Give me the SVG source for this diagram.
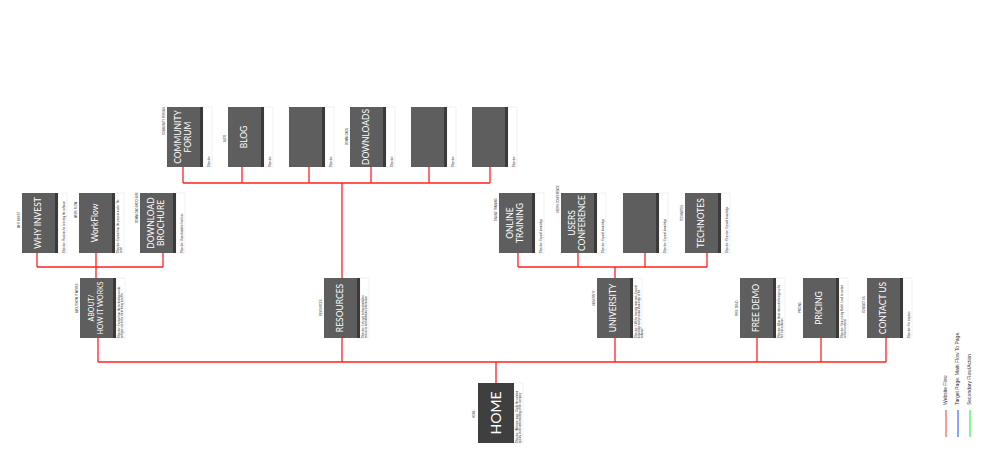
<svg xmlns="http://www.w3.org/2000/svg" width="1000" height="452" viewBox="0 0 1000 452">
<style>
.b{fill:#5e5e5e}.h{fill:#3f3f3f}.s{fill:#3a3a3a}.p{fill:#fff;stroke:#e6e6e6;stroke-width:0.6}
.t{font-family:"Lato","Liberation Sans",sans-serif;fill:#fff;font-size:8.5px;text-anchor:middle}
.sm{font-family:"Liberation Sans",sans-serif;fill:#333;font-size:2.6px}
.c{stroke:#f22;stroke-width:1.3;fill:none}
.lg{font-family:"Liberation Sans",sans-serif;fill:#333;font-size:5px}
</style>
<rect width="1000" height="452" fill="#fff"/>
<g id="connectors" class="c">
<path d="M183 167V183M242 167V183M309 167V183M371 167V183M429 167V183M490 167V183M183 183H490M342 183V278"/>
<path d="M37 252V267M96 252V267M163 252V267M37 267H163M96 267V278"/>
<path d="M518 252V267M578 252V267M645 252V267M707 252V267M518 267H707M615 267V278"/>
<path d="M98 337V362M342 337V362M615 337V362M757 337V362M821 337V362M886 337V362M98 362H886M496 362V383"/>
</g>
<g id="n-community" transform="translate(167,107)"><rect class="p" x="36" width="9" height="60"/><rect class="b" width="36" height="60"/><rect class="s" x="33" width="3" height="60"/><text class="t" transform="translate(16,30) rotate(-90)"><tspan x="0" y="-2">COMMUNITY</tspan><tspan x="0" y="8">FORUM</tspan></text><text class="sm" transform="translate(-2,60) rotate(-90)" x="32">COMMUNITY FORUMS</text><text class="sm" transform="translate(43,60) rotate(-90)">Objective</text></g>
<g id="n-blog" transform="translate(228,107)"><rect class="p" x="36" width="9" height="60"/><rect class="b" width="36" height="60"/><rect class="s" x="33" width="3" height="60"/><text class="t" transform="translate(19,30) rotate(-90)">BLOG</text><text class="sm" transform="translate(-2,60) rotate(-90)" x="25">BLOG</text><text class="sm" transform="translate(43,60) rotate(-90)">Objective</text></g>
<g id="n-empty1" transform="translate(289,107)"><rect class="p" x="36" width="9" height="60"/><rect class="b" width="36" height="60"/><rect class="s" x="33" width="3" height="60"/><text class="sm" transform="translate(43,60) rotate(-90)">Objective</text></g>
<g id="n-downloads" transform="translate(350,107)"><rect class="p" x="36" width="9" height="60"/><rect class="b" width="36" height="60"/><rect class="s" x="33" width="3" height="60"/><text class="t" transform="translate(19,30) rotate(-90)">DOWNLOADS</text><text class="sm" transform="translate(-2,60) rotate(-90)" x="22">DOWNLOADS</text><text class="sm" transform="translate(43,60) rotate(-90)">Objective</text></g>
<g id="n-empty2" transform="translate(411,107)"><rect class="p" x="36" width="9" height="60"/><rect class="b" width="36" height="60"/><rect class="s" x="33" width="3" height="60"/><text class="sm" transform="translate(43,60) rotate(-90)">Objective</text></g>
<g id="n-empty3" transform="translate(472,107)"><rect class="p" x="36" width="9" height="60"/><rect class="b" width="36" height="60"/><rect class="s" x="33" width="3" height="60"/><text class="sm" transform="translate(43,60) rotate(-90)">Objective</text></g>
<g id="n-whyinvest" transform="translate(22,193)"><rect class="p" x="36" width="9" height="60"/><rect class="b" width="36" height="60"/><rect class="s" x="33" width="3" height="60"/><text class="t" transform="translate(19,30) rotate(-90)">WHY INVEST</text><text class="sm" transform="translate(-2,60) rotate(-90)" x="25">WHY INVEST</text><text class="sm" transform="translate(43,60) rotate(-90)">Objective: Reasons for selecting the software</text></g>
<g id="n-workflow" transform="translate(79,193)"><rect class="p" x="36" width="9" height="60"/><rect class="b" width="36" height="60"/><rect class="s" x="33" width="3" height="60"/><text class="t" transform="translate(19,30) rotate(-90)">WorkFlow</text><text class="sm" transform="translate(-2,60) rotate(-90)" x="35">WORK FLOW</text><text class="sm" transform="translate(40,60) rotate(-90)"><tspan x="0">Objective: Explain how the process works. The</tspan><tspan x="0" dy="3">need</tspan></text></g>
<g id="n-brochure" transform="translate(140,193)"><rect class="p" x="36" width="9" height="60"/><rect class="b" width="36" height="60"/><rect class="s" x="33" width="3" height="60"/><text class="t" transform="translate(16,30) rotate(-90)"><tspan x="0" y="-2">DOWNLOAD</tspan><tspan x="0" y="8">BROCHURE</tspan></text><text class="sm" transform="translate(-2,60) rotate(-90)" x="30">DOWNLOAD BROCHURE</text><text class="sm" transform="translate(43,60) rotate(-90)">Objective: Downloadable brochure</text></g>
<g id="n-about" transform="translate(80,278)"><rect class="p" x="36" width="9" height="60"/><rect class="b" width="36" height="60"/><rect class="s" x="33" width="3" height="60"/><text class="t" style="font-size:7px" transform="translate(16,30) rotate(-90)"><tspan x="0" y="-2">ABOUT/</tspan><tspan x="0" y="7">HOW IT WORKS</tspan></text><text class="sm" transform="translate(-2,60) rotate(-90)" x="25">ABOUT/HOW IT WORKS</text><text class="sm" transform="translate(40,60) rotate(-90)"><tspan x="0">Objective: Explain how the technology works</tspan><tspan x="0" dy="3">and give users the client hiring process</tspan></text></g>
<g id="n-resources" transform="translate(324,278)"><rect class="p" x="36" width="9" height="60"/><rect class="b" width="36" height="60"/><rect class="s" x="33" width="3" height="60"/><text class="t" transform="translate(19,30) rotate(-90)">RESOURCES</text><text class="sm" transform="translate(-2,60) rotate(-90)" x="22">RESOURCES</text><text class="sm" transform="translate(40,60) rotate(-90)"><tspan x="0">Objective: Let's get to downloadables</tspan><tspan x="0" dy="3">resources and additional information</tspan></text></g>
<g id="n-onlinetraining" transform="translate(499,193)"><rect class="p" x="36" width="9" height="60"/><rect class="b" width="36" height="60"/><rect class="s" x="33" width="3" height="60"/><text class="t" transform="translate(16,30) rotate(-90)"><tspan x="0" y="-2">ONLINE</tspan><tspan x="0" y="8">TRAINING</tspan></text><text class="sm" transform="translate(-2,60) rotate(-90)" x="32">ONLINE TRAINING</text><text class="sm" transform="translate(43,60) rotate(-90)">Objective: Expand knowledge</text></g>
<g id="n-usersconf" transform="translate(561,193)"><rect class="p" x="36" width="9" height="60"/><rect class="b" width="36" height="60"/><rect class="s" x="33" width="3" height="60"/><text class="t" transform="translate(16,30) rotate(-90)"><tspan x="0" y="-2">USERS</tspan><tspan x="0" y="8">CONFERENCE</tspan></text><text class="sm" transform="translate(-2,60) rotate(-90)" x="40">USERS CONFERENCE</text><text class="sm" transform="translate(43,60) rotate(-90)">Objective: Expand knowledge</text></g>
<g id="n-empty4" transform="translate(623,193)"><rect class="p" x="36" width="9" height="60"/><rect class="b" width="36" height="60"/><rect class="s" x="33" width="3" height="60"/><text class="sm" transform="translate(43,60) rotate(-90)">Objective: Expand knowledge</text></g>
<g id="n-technotes" transform="translate(685,193)"><rect class="p" x="36" width="9" height="60"/><rect class="b" width="36" height="60"/><rect class="s" x="33" width="3" height="60"/><text class="t" transform="translate(19,30) rotate(-90)">TECHNOTES</text><text class="sm" transform="translate(-2,60) rotate(-90)" x="32">TECHNOTES</text><text class="sm" transform="translate(43,60) rotate(-90)">Objective: Objective: Expand knowledge</text></g>
<g id="n-university" transform="translate(597,278)"><rect class="p" x="36" width="9" height="60"/><rect class="b" width="36" height="60"/><rect class="s" x="33" width="3" height="60"/><text class="t" transform="translate(19,30) rotate(-90)">UNIVERSITY</text><text class="sm" transform="translate(-2,60) rotate(-90)" x="32">UNIVERSITY</text><text class="sm" transform="translate(40,60) rotate(-90)"><tspan x="0">Objective: LMS for learning materials. Expand</tspan><tspan x="0" dy="3">knowledge and personal knowledge of the</tspan><tspan x="0" dy="3">software</tspan></text></g>
<g id="n-freedemo" transform="translate(740,278)"><rect class="p" x="36" width="9" height="60"/><rect class="b" width="36" height="60"/><rect class="s" x="33" width="3" height="60"/><text class="t" transform="translate(19,30) rotate(-90)">FREE DEMO</text><text class="sm" transform="translate(-2,60) rotate(-90)" x="22">FREE DEMO</text><text class="sm" transform="translate(40,60) rotate(-90)"><tspan x="0">Objective: Allow those interested to sign up for</tspan><tspan x="0" dy="3">free trial software</tspan></text></g>
<g id="n-pricing" transform="translate(803,278)"><rect class="p" x="36" width="9" height="60"/><rect class="b" width="36" height="60"/><rect class="s" x="33" width="3" height="60"/><text class="t" transform="translate(19,30) rotate(-90)">PRICING</text><text class="sm" transform="translate(-2,60) rotate(-90)" x="25">PRICING</text><text class="sm" transform="translate(40,60) rotate(-90)"><tspan x="0">Objective: View pricing Model. Lead to contact</tspan><tspan x="0" dy="3">us form or demo</tspan></text></g>
<g id="n-contact" transform="translate(867,278)"><rect class="p" x="36" width="9" height="60"/><rect class="b" width="36" height="60"/><rect class="s" x="33" width="3" height="60"/><text class="t" transform="translate(19,30) rotate(-90)">CONTACT US</text><text class="sm" transform="translate(-2,60) rotate(-90)" x="25">CONTACT US</text><text class="sm" transform="translate(43,60) rotate(-90)">Objective: For inquiries</text></g>
<g id="n-home" transform="translate(478,383)"><rect class="p" x="36" width="9" height="60"/><rect class="h" width="36" height="60"/><text class="t" style="font-size:14px" transform="translate(23,30) rotate(-90)">HOME</text><text class="sm" transform="translate(-3,60) rotate(-90)" x="25">HOME</text><text class="sm" transform="translate(40,60) rotate(-90)"><tspan x="0">Objective: Welcome page. Clarify the solution</tspan><tspan x="0" dy="3">quickly, build understanding of the company</tspan></text></g>
<g id="legend">
<text class="lg" transform="translate(947,405) rotate(-90)">Website Flow</text>
<text class="lg" transform="translate(959,405) rotate(-90)">Target Page. Main Flow To Page.</text>
<text class="lg" transform="translate(971,405) rotate(-90)">Secondary Flow/Action</text>
<line x1="946" y1="410" x2="946" y2="437" stroke="#f55" stroke-width="1.2"/>
<line x1="958" y1="410" x2="958" y2="437" stroke="#46f" stroke-width="1.2"/>
<line x1="970" y1="410" x2="970" y2="437" stroke="#3e4" stroke-width="1.2"/>
</g>
</svg>
